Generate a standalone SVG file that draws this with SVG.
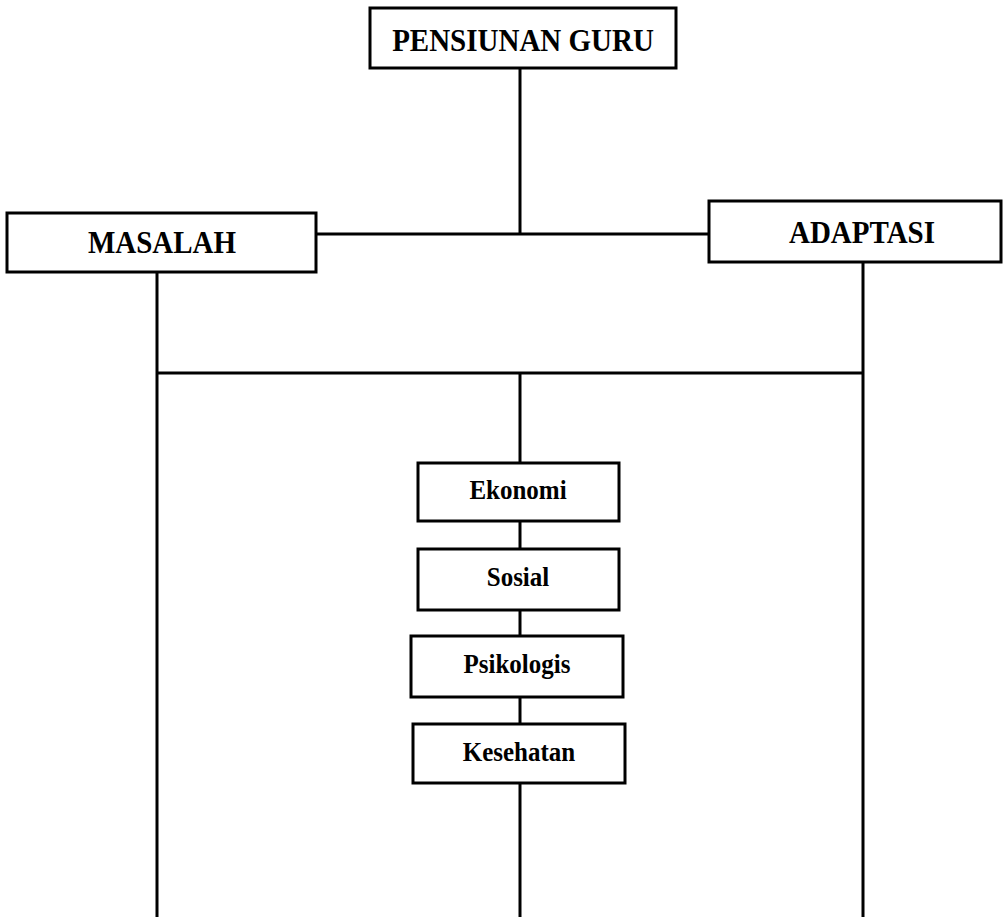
<svg xmlns="http://www.w3.org/2000/svg" width="1006" height="917" viewBox="0 0 1006 917">
<style>
rect{fill:#fff;stroke:#000;stroke-width:3}
line{stroke:#000;stroke-width:3}
text{font-family:"Liberation Serif","Times New Roman",serif;font-weight:bold;text-anchor:middle;fill:#000}
.big{font-size:29px}
.small{font-size:25px}
</style>
<g id="connectors">
<line x1="520" y1="68" x2="520" y2="234"/>
<line x1="316" y1="234" x2="709" y2="234"/>
<line x1="157" y1="272" x2="157" y2="917"/>
<line x1="863" y1="262" x2="863" y2="917"/>
<line x1="157" y1="373" x2="863" y2="373"/>
<line x1="520" y1="373" x2="520" y2="463"/>
<line x1="520" y1="521" x2="520" y2="549"/>
<line x1="520" y1="610" x2="520" y2="636"/>
<line x1="520" y1="697" x2="520" y2="724"/>
<line x1="520" y1="783" x2="520" y2="917"/>
</g>
<g id="pensiunan"><rect x="370" y="8" width="306" height="60"/><text class="big" transform="translate(523,51) scale(1,1.1)">PENSIUNAN GURU</text></g>
<g id="masalah"><rect x="7" y="213" width="309" height="59"/><text class="big" transform="translate(162,253) scale(1,1.1)">MASALAH</text></g>
<g id="adaptasi"><rect x="709" y="201" width="292" height="61"/><text class="big" transform="translate(862,243) scale(1,1.1)">ADAPTASI</text></g>
<g id="ekonomi"><rect x="418" y="463" width="201" height="58"/><text class="small" transform="translate(518,499) scale(1,1.05)">Ekonomi</text></g>
<g id="sosial"><rect x="418" y="549" width="201" height="61"/><text class="small" transform="translate(518,586) scale(1,1.05)">Sosial</text></g>
<g id="psikologis"><rect x="411" y="636" width="212" height="61"/><text class="small" transform="translate(517,673) scale(1,1.05)">Psikologis</text></g>
<g id="kesehatan"><rect x="413" y="724" width="212" height="59"/><text class="small" transform="translate(519,761) scale(1,1.05)">Kesehatan</text></g>
</svg>
